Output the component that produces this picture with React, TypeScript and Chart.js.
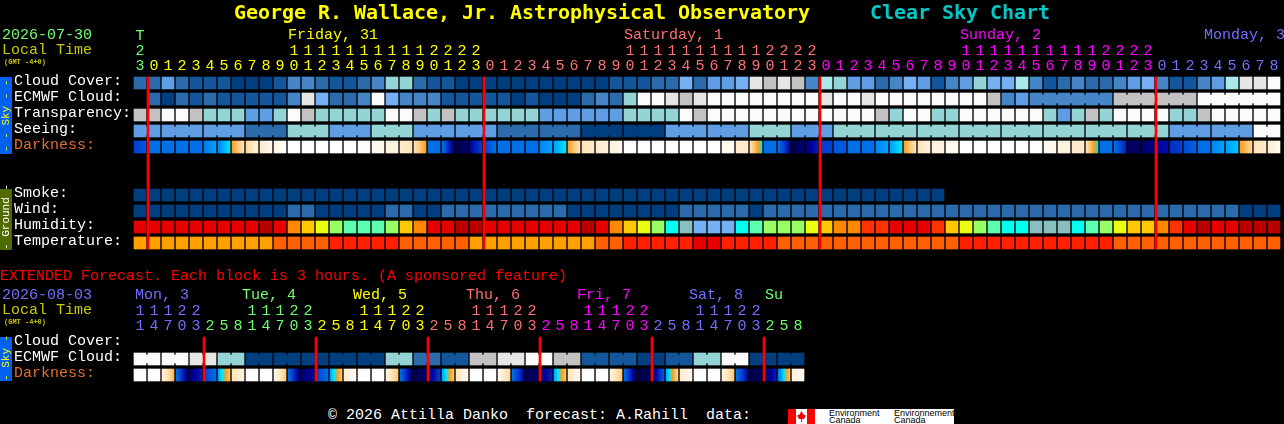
import { useEffect, useRef } from "react";
import { Chart, registerables } from "chart.js";

Chart.register(...registerables);

const MONO = '"Liberation Mono", monospace';
const TITLE_FONT = '"DejaVu Sans Mono", monospace';

// Day colours used by the tick labels and the day names
const GREEN = "#70ff70";
const YELLOW = "#ffff00";
const SALMON = "#ff7070";
const MAGENTA = "#ff00ff";
const BLUE = "#7070ff";
const RED = "#ff0000";

// Shared sky scale: 0 = clear / best, 10 = overcast / worst
const skyPalette = [
  "#003f7f", "#13569b", "#2b6bab", "#4686c8", "#5f9de4", "#75b0f5",
  "#94d4d4", "#a9e9e9", "#c2c2c2", "#e6e6e6", "#fbfbfb",
];
const humidityPalette = [
  "#b80000", "#e60000", "#ff3300", "#ff8800", "#ffc800", "#eaff10",
  "#99ff66", "#5cffb0", "#00ffee", "#88c0c0", "#75b0f5",
];
const temperaturePalette = ["#ffa000", "#ff6000", "#ff2000", "#e60000"];
const darknessRamp = [
  "#000048", "#0000a0", "#0040d0", "#0070e8", "#00a0ff", "#00e8ff",
  "#ff9c1c", "#ffc878", "#ffe4b8", "#fff2e0", "#ffffff",
];

// Hourly forecast, starting 23h on 2026-07-30
const hourlyLabels = [
  "Cloud Cover:", "ECMWF Cloud:", "Transparency:", "Seeing:", "Darkness:", "", "",
  "Smoke:", "Wind:", "Humidity:", "Temperature:",
];
const hourlyHours = [
  23,
  0, 1, 2, 3, 4, 5, 6, 7, 8, 9, 10, 11, 12, 13, 14, 15, 16, 17, 18, 19, 20, 21, 22, 23,
  0, 1, 2, 3, 4, 5, 6, 7, 8, 9, 10, 11, 12, 13, 14, 15, 16, 17, 18, 19, 20, 21, 22, 23,
  0, 1, 2, 3, 4, 5, 6, 7, 8, 9, 10, 11, 12, 13, 14, 15, 16, 17, 18, 19, 20, 21, 22, 23,
  0, 1, 2, 3, 4, 5, 6, 7, 8,
];
const hourlyColors = [
  GREEN,
  ...Array(24).fill(YELLOW),
  ...Array(24).fill(SALMON),
  ...Array(24).fill(MAGENTA),
  ...Array(9).fill(BLUE),
];
const cloudCover = [
  2, 2, 4, 2, 1, 1, 1, 0, 0, 0,
  1, 3, 3, 2, 1, 1, 2, 3, 6, 6,
  2, 1, 1, 0, 0, 0, 0, 0, 0, 0,
  0, 0, 0, 0, 1, 1, 1, 2, 2, 5,
  2, 4, 4, 5, 9, 8, 9, 8, 3, 7,
  6, 4, 4, 2, 3, 5, 4, 1, 3, 4,
  6, 5, 5, 7, 3, 1, 2, 3, 2, 2,
  3, 4, 5, 3, 1, 1, 3, 4, 7, 9, 9, 10,
];
const ecmwfCloud = [
  null, 2, 0, 2, 1, 2, 1, 1, 1, 1,
  1, 3, 9, 5, 2, 2, 3, 10, 5, 3,
  3, 3, 1, 1, 1, 1, 1, 0, 1, 0,
  0, 0, 2, 3, 2, 6, 10, 10, 9, 8,
  9, 10, 10, 10, 10, 10, 10, 10, 10, 9,
  10, 10, 9, 10, 10, 10, 10, 10, 10, 10,
  10, 8, 3, 4, 3, 3, 3, 3, 3, 3,
  8, 8, 8, 8, 8, 8, 10, 10, 10, 10, 10, 10,
];
const ecmwfJoins = [64, 65, 66, 67, 68, 70, 71, 72, 73, 74, 76, 77, 78, 79, 80];
const transparency = [
  8, 8, 10, 10, 8, 6, 6, 6, 4, 4,
  6, 10, 8, 6, 6, 6, 6, 6, 10, 10,
  8, 6, 8, 6, 6, 6, 6, 6, 6, 4,
  4, 4, 4, 4, 4, 6, 6, 6, 6, 10,
  8, 10, 10, 10, 10, 10, 10, 10, 10, 10,
  10, 10, 10, 8, 6, 10, 10, 6, 6, 10,
  10, 10, 10, 10, 10, 6, 4, 6, 8, 6,
  10, 10, 10, 10, 6, 6, 8, 10, 10, 10, 10, 10,
];
const seeing = [
  4, 4, 4, 4, 4, 4, 4, 4, 2, 2,
  2, 6, 6, 6, 4, 4, 4, 6, 6, 6,
  4, 4, 4, 4, 4, 4, 2, 2, 2, 2,
  2, 2, 0, 0, 0, 0, 0, 0, 4, 4,
  4, 4, 4, 4, 6, 6, 6, 4, 4, 4,
  6, 6, 6, 6, 6, 6, 6, 6, 6, 6,
  6, 6, 6, 6, 6, 6, 6, 6, 6, 6,
  6, 6, 6, 6, 4, 4, 4, 4, 4, 4, 10, 10,
];
const seeingJoins = [
  0, 2, 3, 5, 6, 8, 9, 11, 12, 14, 15, 17, 18, 20, 21, 23, 24, 26, 27, 29, 30,
  32, 33, 35, 36, 38, 39, 41, 42, 44, 45, 47, 48, 50, 51, 53, 54, 56, 57, 59, 60,
  62, 63, 65, 66, 68, 69, 71, 72, 74, 75, 77, 78, 80,
];
// Each darkness block fades from a start level to an end level
const darknessStart = [
  2, 3, 3, 3, 3, 3.2, 3.5, 6, 7.5, 8.5,
  9, 10, 10, 10, 10, 10, 10, 9.5, 9, 8.5,
  8, 3, 3, 0, 1, 2, 3, 3, 3, 3.5,
  4, 6, 8, 8.5, 9, 10, 10, 10, 10, 10,
  10, 10, 9.5, 8.5, 8, 3, 3, 0, 0.5, 2,
  2.5, 3, 3, 3.5, 4, 6, 8, 9, 9.5, 10,
  10, 10, 10, 10, 10, 9.5, 9, 8.5, 8, 3,
  3, 0.3, 0.3, 1, 1.7, 2.3, 3, 3.5, 4, 6, 8, 8.5,
];
const darknessEnd = [
  2.5, 3, 3, 3, 3, 4, 5, 8, 9, 9.5,
  10, 10, 10, 10, 10, 10, 9.8, 9.5, 9, 8,
  6, 3, 0.5, 0.5, 2, 3, 3, 3, 3, 4,
  5, 8, 8.5, 9, 9.5, 10, 10, 10, 10, 10,
  10, 10, 9.5, 8.5, 5, 3, 1, 0.5, 1.5, 2,
  2.5, 3, 3, 4, 5, 8, 9, 9, 9.5, 10,
  10, 10, 10, 10, 10, 9.5, 9, 8.5, 5, 3,
  1.5, 0.3, 0.8, 1.2, 2, 2.7, 3, 4, 4.5, 7.5, 8.5, 9.5,
];
const smoke = [
  0, 0, 0, 0, 0, 0, 0, 0, 0, 0, 0, 0, 0, 0, 0, 0, 0, 0, 0, 0,
  0, 0, 0, 0, 0, 0, 0, 0, 0, 0, 0, 0, 0, 0, 0, 0, 0, 0, 0, 0,
  0, 0, 0, 0, 0, 0, 0, 0, 0, 0, 0, 0, 0, 0, 0, 0, 0, 0,
];
const wind = [
  0, 0, 0, 0, 0, 0, 0, 0, 0, 0,
  0, 2, 2, 0, 0, 0, 0, 0, 2, 2,
  0, 0, 2, 2, 2, 2, 2, 2, 2, 2,
  2, 0, 0, 0, 0, 0, 0, 0, 0, 2,
  2, 2, 2, 2, 0, 2, 2, 2, 2, 2,
  2, 2, 2, 2, 2, 2, 2, 2, 2, 2,
  2, 2, 2, 2, 2, 2, 2, 2, 2, 2,
  2, 2, 2, 2, 2, 2, 2, 2, 2, 0, 0, 0,
];
const humidity = [
  1, 1, 1, 1, 1, 1, 1, 1, 1, 0,
  1, 3, 4, 5, 6, 7, 7, 7, 6, 4,
  3, 1, 1, 0, 0, 1, 1, 1, 1, 1,
  1, 1, 0, 1, 3, 4, 5, 6, 8, 9,
  10, 10, 10, 8, 7, 6, 6, 6, 5, 4,
  3, 3, 2, 2, 1, 1, 1, 2, 4, 5,
  6, 7, 8, 8, 9, 9, 9, 8, 7, 6,
  5, 4, 4, 3, 2, 1, 0, 1, 1, 0, 0, 0,
];
const temperature = [
  0, 0, 0, 0, 0, 0, 0, 0, 0, 0,
  1, 1, 1, 1, 2, 2, 2, 2, 2, 1,
  1, 1, 1, 1, 0, 0, 0, 0, 0, 0,
  0, 0, 0, 1, 1, 2, 2, 2, 2, 2,
  3, 3, 2, 2, 2, 2, 1, 1, 1, 1,
  1, 1, 1, 1, 1, 1, 1, 1, 1, 2,
  2, 2, 2, 2, 2, 2, 2, 2, 2, 2,
  1, 1, 1, 1, 1, 1, 1, 1, 1, 1, 1, 1,
];
const hourlyMidnights = [0.5, 24.5, 48.5, 72.5];

// Extended forecast, one block every 3 hours
const extendedLabels = ["Cloud Cover:", "ECMWF Cloud:", "Darkness:"];
const extendedHours = [
  11, 14, 17, 20, 23, 2, 5, 8,
  11, 14, 17, 20, 23, 2, 5, 8,
  11, 14, 17, 20, 23, 2, 5, 8,
  11, 14, 17, 20, 23, 2, 5, 8,
  11, 14, 17, 20, 23, 2, 5, 8,
  11, 14, 17, 20, 23, 2, 5, 8,
];
const extendedColors = [
  ...Array(5).fill(BLUE),
  ...Array(8).fill(GREEN),
  ...Array(8).fill(YELLOW),
  ...Array(8).fill(SALMON),
  ...Array(8).fill(MAGENTA),
  ...Array(8).fill(BLUE),
  ...Array(3).fill(GREEN),
];
const extendedEcmwf = [
  10, 10, 10, 10, 9, 9, 6, 6, 0, 0, 0, 0, 0, 0, 0, 0,
  0, 0, 6, 6, 2, 2, 1, 1, 8, 8, 9, 9, 10, 10, 8, 8,
  1, 1, 1, 1, 0, 0, 1, 1, 6, 6, 10, 10, 0, 0, 0, 0,
];
const extendedJoins = [0, 2, 4, 6, 8, 10, 12, 14, 16, 18, 20, 22, 24, 26, 28, 30, 32, 34, 36, 38, 40, 42, 44, 46];
const extendedDarkStart = [
  10, 10, 9, 3, 0.5, 2, 4, 8, 10, 10, 9.5, 3,
  0.5, 2, 4, 8.5, 10, 10, 9, 3, 0, 0.5, 4, 8,
  10, 10, 9.5, 3, 0.2, 0.5, 4, 8, 10, 10, 9, 3,
  0, 0.3, 4, 8.5, 10, 10, 9, 3, 0, 0.2, 3, 9,
];
const extendedDarkEnd = [
  10, 9.8, 6.5, 0.5, 1.5, 3, 7, 9, 10, 10, 7, 0.5,
  1, 3, 7, 9.8, 10, 10, 7, 0.5, 0.5, 2, 7, 9.5,
  10, 10, 7.5, 1, 0.3, 1.5, 7, 9.5, 10, 10, 7, 0.3,
  0.2, 2.5, 7.5, 9.5, 10, 10, 7, 1, 0.2, 1.5, 7, 9.5,
];
const extendedMidnights = [4.5, 12.5, 20.5, 28.5, 36.5, 44.5];

const hourlyDays = [
  { text: "Friday, 31", x: 288, color: YELLOW },
  { text: "Saturday, 1", x: 624, color: SALMON },
  { text: "Sunday, 2", x: 960, color: MAGENTA },
  { text: "Monday, 3", x: 1204, color: BLUE },
];
const extendedDays = [
  { text: "Mon, 3", x: 135, color: BLUE },
  { text: "Tue, 4", x: 242, color: GREEN },
  { text: "Wed, 5", x: 353, color: YELLOW },
  { text: "Thu, 6", x: 466, color: SALMON },
  { text: "Fri, 7", x: 577, color: MAGENTA },
  { text: "Sat, 8", x: 689, color: BLUE },
  { text: "Su", x: 765, color: GREEN },
];

const CELL_PX = 14; // column pitch
const CELL_HALF = 0.375; // half a block, in rows
const JOIN_HALF = 0.25; // half the bridge between joined blocks, in rows

function blocks(levels: (number | null)[], row: number, palette: string[], joins: number[] = []) {
  const cells = levels.flatMap((level, i) =>
    level === null ? [] : [{ x: i, y: [row - CELL_HALF, row + CELL_HALF], level }]
  );
  const bridges = joins.map((i) => ({
    x: i + 0.5,
    y: [row - JOIN_HALF, row + JOIN_HALF],
    level: levels[i] as number,
  }));
  return [
    {
      data: cells,
      backgroundColor: cells.map((c) => palette[c.level]),
      barThickness: 12,
      grouped: false,
      order: 2,
    },
    {
      data: bridges,
      backgroundColor: bridges.map((c) => palette[c.level]),
      barThickness: 4,
      grouped: false,
      order: 2,
    },
  ];
}

function mix(a: string, b: string, t: number) {
  const ch = (hex: string, p: number) => parseInt(hex.slice(p, p + 2), 16);
  const part = (p: number) => Math.round(ch(a, p) + (ch(b, p) - ch(a, p)) * t);
  return `rgb(${part(1)}, ${part(3)}, ${part(5)})`;
}

function rampColor(level: number) {
  const low = Math.min(Math.floor(level), 9);
  return mix(darknessRamp[low], darknessRamp[low + 1], level - low);
}

function darknessBlocks(start: number[], end: number[], row: number) {
  return {
    data: start.map((_, i) => ({ x: i, y: [row - CELL_HALF, row + CELL_HALF] })),
    backgroundColor: (ctx: any) => {
      const scale = ctx.chart.scales.x;
      if (!scale || ctx.dataIndex === undefined) return "#000";
      const px = scale.getPixelForValue(ctx.dataIndex);
      // the scale has no pixels yet on the first pass
      if (!Number.isFinite(px)) return "#000";
      const a = start[ctx.dataIndex];
      const b = end[ctx.dataIndex];
      const g = ctx.chart.ctx.createLinearGradient(px - 6, 0, px + 6, 0);
      g.addColorStop(0, rampColor(a));
      const lo = Math.min(a, b);
      const hi = Math.max(a, b);
      for (let k = Math.ceil(lo); k <= Math.floor(hi); k++) {
        if (k > lo && k < hi) g.addColorStop((k - a) / (b - a), darknessRamp[k]);
      }
      g.addColorStop(1, rampColor(b));
      return g;
    },
    barThickness: 12,
    grouped: false,
    order: 2,
  };
}

function midnightLines(positions: number[], top: number, bottom: number) {
  return {
    // the line sits one pixel past the gap between two blocks
    data: positions.map((x) => ({ x: x + 1 / CELL_PX, y: [top - CELL_HALF, bottom + CELL_HALF] })),
    backgroundColor: RED,
    barThickness: 2,
    grouped: false,
    order: 1,
  };
}

function hourTick(hour: number, first: string) {
  const tens = hour >= 10 ? String(Math.floor(hour / 10)) : "";
  return [first, tens, String(hour % 10)];
}

function buildOptions(
  hours: number[],
  colors: string[],
  labels: string[],
  padding: { top: number; bottom: number; right: number },
  firstLine: string
) {
  return {
    animation: false as const,
    responsive: false,
    devicePixelRatio: 1,
    events: [],
    layout: { padding: { left: 14, ...padding } },
    plugins: { legend: { display: false }, tooltip: { enabled: false } },
    scales: {
      x: {
        type: "linear" as const,
        position: "top" as const,
        offset: false, // bar charts default to true, which would add half a column each side
        min: -0.5,
        max: hours.length - 0.5,
        grid: { display: false, drawTicks: false },
        border: { display: false },
        afterBuildTicks: (scale: any) => {
          scale.ticks = hours.map((_, i) => ({ value: i }));
        },
        afterFit: (scale: any) => {
          // fixed band, and no room kept for the edge labels
          scale.height = 47;
          scale.paddingLeft = 0;
          scale.paddingRight = 0;
        },
        ticks: {
          autoSkip: false,
          maxRotation: 0,
          padding: 1,
          font: { family: MONO, size: 15, lineHeight: 1 },
          color: (ctx: any) => colors[ctx.index],
          callback: (_: any, i: number) => hourTick(hours[i], i === 0 ? firstLine : ""),
        },
      },
      y: {
        type: "linear" as const,
        reverse: true,
        min: -0.5,
        max: labels.length - 0.5,
        grid: { display: false, drawTicks: false },
        border: { display: false },
        afterBuildTicks: (scale: any) => {
          scale.ticks = labels.map((_, i) => ({ value: i }));
        },
        afterFit: (scale: any) => {
          scale.width = 119;
          scale.paddingTop = 0;
          scale.paddingBottom = 0;
        },
        ticks: {
          autoSkip: false,
          crossAlign: "far" as const,
          labelOffset: -2,
          font: { family: MONO, size: 15 },
          color: (ctx: any) => (labels[ctx.index] === "Darkness:" ? "#e07030" : "#ffffff"),
          callback: (_: any, i: number) => labels[i],
        },
      },
    },
  };
}

function Text({ x, y, color, size = 15, bold = false, font = MONO, children }: any) {
  return (
    <span
      style={{
        position: "absolute",
        left: x,
        top: y,
        color,
        fontFamily: font,
        fontSize: size,
        fontWeight: bold ? "bold" : "normal",
        letterSpacing: font === TITLE_FONT ? -0.04 : 0,
        lineHeight: "16px",
        whiteSpace: "pre",
      }}
    >
      {children}
    </span>
  );
}

function Strip({ top, height, background, color, children }: any) {
  return (
    <div
      style={{
        position: "absolute",
        left: 0,
        top,
        width: 12,
        height,
        background,
        color,
        fontFamily: MONO,
        fontSize: 11,
        lineHeight: "12px",
        textAlign: "center",
        writingMode: "vertical-rl",
        transform: "rotate(180deg)",
        whiteSpace: "pre",
      }}
    >
      {children}
    </div>
  );
}

export default function App() {
  const hourlyRef = useRef<HTMLCanvasElement>(null);
  const extendedRef = useRef<HTMLCanvasElement>(null);

  useEffect(() => {
    if (!hourlyRef.current || !extendedRef.current) return;

    const hourly = new Chart(hourlyRef.current, {
      type: "bar",
      data: {
        datasets: [
          ...blocks(cloudCover, 0, skyPalette),
          ...blocks(ecmwfCloud, 1, skyPalette, ecmwfJoins),
          ...blocks(transparency, 2, skyPalette),
          ...blocks(seeing, 3, skyPalette, seeingJoins),
          darknessBlocks(darknessStart, darknessEnd, 4),
          ...blocks(smoke, 7, skyPalette),
          ...blocks(wind, 8, skyPalette),
          ...blocks(humidity, 9, humidityPalette),
          ...blocks(temperature, 10, temperaturePalette),
          midnightLines(hourlyMidnights, 0, 10),
        ] as any,
      },
      options: buildOptions(
        hourlyHours,
        hourlyColors,
        hourlyLabels,
        { top: 28, bottom: 9, right: 3 },
        "T"
      ) as any,
    });

    const extended = new Chart(extendedRef.current, {
      type: "bar",
      data: {
        datasets: [
          ...blocks(extendedEcmwf, 1, skyPalette, extendedJoins),
          darknessBlocks(extendedDarkStart, extendedDarkEnd, 2),
          midnightLines(extendedMidnights, 0, 2),
        ] as any,
      },
      options: buildOptions(
        extendedHours,
        extendedColors,
        extendedLabels,
        { top: 0, bottom: 5, right: 479 },
        ""
      ) as any,
    });

    return () => {
      hourly.destroy();
      extended.destroy();
    };
  }, []);

  return (
    <div style={{ position: "fixed", left: 0, top: 0, width: 1284, height: 424, background: "#000", overflow: "hidden" }}>
      <canvas ref={hourlyRef} width={1284} height={260} style={{ position: "absolute", left: 0, top: 0 }} />
      <canvas ref={extendedRef} width={1284} height={100} style={{ position: "absolute", left: 0, top: 288 }} />

      <Text x={234} y={4} color="#ffff00" size={20} bold font={TITLE_FONT}>George R. Wallace, Jr. Astrophysical Observatory</Text>
      <Text x={870} y={4} color="#00c8c8" size={20} bold font={TITLE_FONT}>Clear Sky Chart</Text>

      <Text x={2} y={28} color={GREEN}>2026-07-30</Text>
      <Text x={2} y={43} color="#c8c800">Local Time</Text>
      <Text x={4} y={54} color="#c8c800" size={7} bold>(GMT -4+0)</Text>
      {hourlyDays.map((d) => (
        <Text key={d.text} x={d.x} y={28} color={d.color}>{d.text}</Text>
      ))}

      <Strip top={77} height={77} background="#0060f0" color="#ffff00">{"- - Sky - -"}</Strip>
      <Strip top={189} height={61} background="#4f6b00" color="#ffffff">{"- Ground -"}</Strip>
      <Strip top={337} height={44} background="#0060f0" color="#ffff00">{"- Sky -"}</Strip>

      <Text x={0} y={269} color={RED}>EXTENDED Forecast. Each block is 3 hours. (A sponsored feature)</Text>
      <Text x={2} y={288} color={BLUE}>2026-08-03</Text>
      <Text x={2} y={303} color="#c8c800">Local Time</Text>
      <Text x={4} y={314} color="#c8c800" size={7} bold>(GMT -4+0)</Text>
      {extendedDays.map((d) => (
        <Text key={d.text} x={d.x} y={288} color={d.color}>{d.text}</Text>
      ))}

      <Text x={328} y={408} color="#ffffff">© 2026 Attilla Danko  forecast: A.Rahill  data:</Text>

      <div style={{ position: "absolute", left: 788, top: 409, width: 166, height: 15, background: "#fff", overflow: "hidden", color: "#000", fontFamily: '"Liberation Sans", sans-serif', fontSize: 9, lineHeight: "7px" }}>
        <div style={{ position: "absolute", left: 0, top: 0, width: 8, height: 15, background: "#ff0000" }} />
        <div style={{ position: "absolute", left: 19, top: 0, width: 8, height: 15, background: "#ff0000" }} />
        <div style={{ position: "absolute", left: 9, top: 2, width: 9, height: 11, background: "#ff0000", clipPath: "polygon(50% 0, 70% 30%, 100% 40%, 80% 70%, 55% 75%, 55% 100%, 45% 100%, 45% 75%, 20% 70%, 0 40%, 30% 30%)" }} />
        <span style={{ position: "absolute", left: 41, top: 1 }}>Environment<br />Canada</span>
        <span style={{ position: "absolute", left: 106, top: 1 }}>Environnement<br />Canada</span>
      </div>
    </div>
  );
}
